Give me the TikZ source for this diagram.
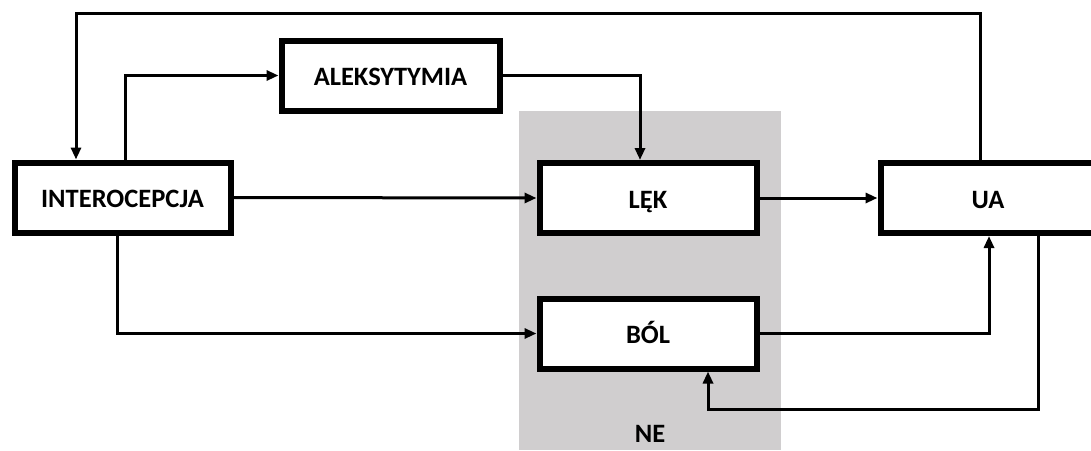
\documentclass[tikz,border=0pt]{standalone}
\usepackage{fontspec}
\setmainfont{Carlito}
\usetikzlibrary{arrows.meta}
\definecolor{negrey}{HTML}{D0CECF}

\begin{document}
\begin{tikzpicture}[
  x=1pt, y=-1pt,
  every node/.style={font=\fontsize{26.5}{30}\selectfont\bfseries},
  blok/.style={draw, line width=6pt, fill=white, inner sep=0pt,
               text height=20pt, text depth=0pt,
               minimum width=#1, minimum height=70pt},
  flow/.style={line width=3pt, -{Triangle[length=12pt,width=10pt]}},
]
\useasboundingbox (0,0) rectangle (1091,450);
\clip (0,0) rectangle (1091,450);

% NE background band
\fill[negrey] (519,111) rectangle (781,450);
\node (ne) at (650,434) {NE};

% boxes
\node[blok=216pt] (intero) at (122.5,197.5) {INTEROCEPCJA};
\node[blok=218pt] (alek)   at (390.5,75.5)  {ALEKSYTYMIA};
\node[blok=217pt] (lek)    at (648,198)     {LĘK};
\node[blok=217pt] (bol)    at (648,333.5)   {BÓL};
\node[blok=215pt] (ua)     at (988,198)     {UA};

% bend points
\coordinate (topR) at (980,13);
\coordinate (topL) at (76,13);
\coordinate (ia) at (125,0);
\coordinate (ib) at (117,0);
\coordinate (al) at (640,0);
\coordinate (bu) at (989,0);
\coordinate (fbR) at (1038,409);
\coordinate (fbL) at (708,409);

% connectors
\draw[flow] (topR |- ua.north) -- (topR) -- (topL) -- (topL |- intero.north);
\draw[flow] (ia |- intero.north) |- (alek.west);
\draw[flow] (alek.east) -| (al |- lek.north);
\draw[flow] (intero.east) -- (lek.west);
\draw[flow] (lek.east) -- (ua.west);
\draw[flow] (ib |- intero.south) |- (bol.west);
\draw[flow] (bol.east) -| (bu |- ua.south);
\draw[flow] (fbR |- ua.south) -- (fbR) -- (fbL) -- (fbL |- bol.south);

\end{tikzpicture}
\end{document}
